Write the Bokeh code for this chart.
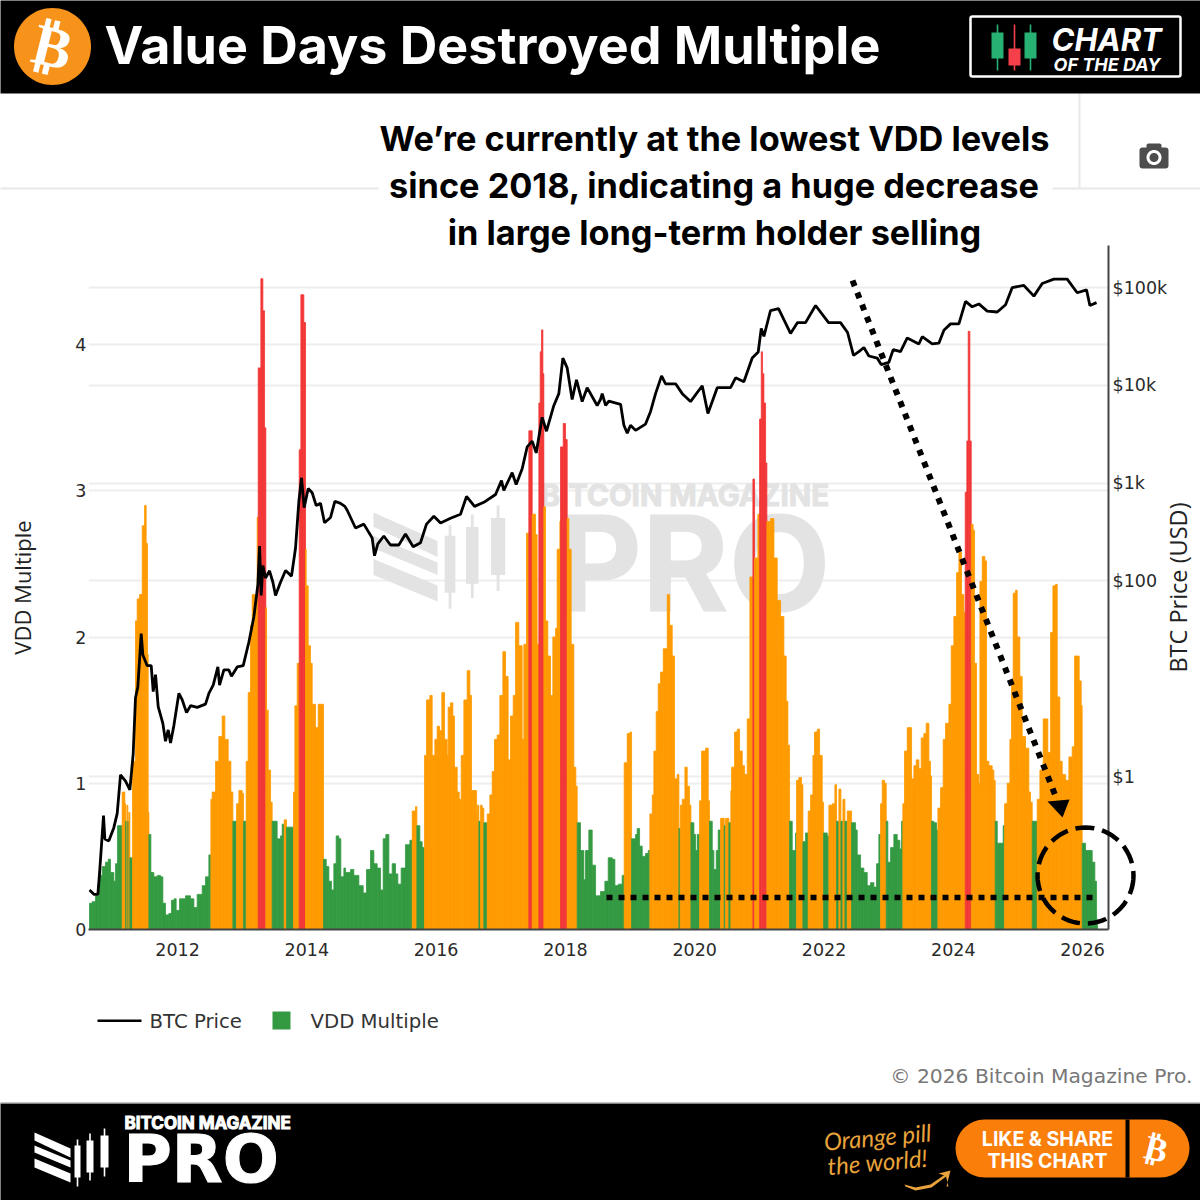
import numpy as np
from bokeh.plotting import figure
from bokeh.layouts import column
from bokeh.embed import file_html
from bokeh.resources import INLINE
from bokeh.models import (ColumnDataSource, Range1d, LogScale, LogAxis, FixedTicker, Grid,
                          NumeralTickFormatter, Label, BoxAnnotation, PolyAnnotation, Arrow)

# ---------- data ----------
vdd_years = [
2010.639,2010.680,2010.732,2010.783,2010.835,2010.886,2010.928,2010.964,2011.015,2011.041,2011.072,2011.144,2011.185,2011.196,2011.216,2011.232,2011.247,2011.263,2011.304,2011.350,2011.376,2011.412,2011.454,2011.490,2011.515,2011.536,2011.546,2011.557,2011.588,2011.634,2011.686,2011.737,2011.773,2011.814,2011.866,2011.907,2011.948,2011.979,2012.031,2012.124,2012.201,2012.253,2012.304,2012.382,2012.433,2012.485,2012.516,2012.536,2012.588,2012.639,2012.691,2012.732,2012.784,2012.825,2012.856,2012.913,2012.949,2013.000,2013.021,2013.062,2013.093,2013.129,2013.155,2013.196,2013.232,2013.248,2013.289,2013.320,2013.346,2013.366,2013.377,2013.403,2013.439,2013.464,2013.541,2013.593,2013.619,2013.650,2013.686,2013.794,2013.815,2013.851,2013.882,2013.908,2013.954,2013.980,2013.990,2014.021,2014.057,2014.083,2014.109,2014.134,2014.176,2014.227,2014.258,2014.300,2014.341,2014.382,2014.418,2014.454,2014.495,2014.526,2014.573,
2014.598,2014.676,2014.727,2014.805,2014.872,2014.923,2014.985,2015.037,2015.088,2015.140,2015.181,2015.222,2015.269,2015.320,2015.372,2015.408,2015.459,2015.526,2015.594,2015.630,2015.681,2015.702,2015.748,2015.784,2015.820,2015.851,2015.903,2015.939,2015.980,2016.016,2016.052,2016.088,2016.130,2016.171,2016.186,2016.222,2016.259,2016.284,2016.326,2016.357,2016.388,2016.429,2016.480,2016.522,2016.547,2016.583,2016.625,2016.635,2016.661,2016.687,2016.712,2016.738,2016.790,2016.831,2016.867,2016.903,2016.944,2016.985,2017.032,2017.073,2017.114,2017.150,2017.192,2017.228,2017.279,2017.331,2017.357,2017.398,2017.434,2017.486,2017.537,2017.563,2017.589,2017.610,2017.630,2017.651,2017.666,2017.692,2017.728,2017.769,2017.805,2017.847,2017.872,2017.914,2017.924,2017.966,2018.001,2018.027,2018.053,2018.089,2018.130,2018.161,2018.182,2018.233,2018.285,2018.311,2018.362,2018.414,2018.466,2018.517,
2018.543,2018.610,2018.662,2018.724,2018.765,2018.817,2018.878,2018.909,2018.956,2018.997,2019.023,2019.085,2019.110,2019.147,2019.188,2019.239,2019.281,2019.306,2019.343,2019.368,2019.404,2019.435,2019.471,2019.513,2019.575,2019.611,2019.652,2019.688,2019.729,2019.755,2019.776,2019.807,2019.848,2019.884,2019.920,2019.941,2019.987,2020.013,2020.039,2020.075,2020.106,2020.167,2020.209,2020.229,2020.271,2020.296,2020.333,2020.363,2020.400,2020.456,2020.477,2020.528,2020.559,2020.570,2020.616,2020.657,2020.693,2020.735,2020.771,2020.812,2020.853,2020.900,2020.925,2020.977,2021.003,2021.029,2021.049,2021.070,2021.096,2021.116,2021.173,2021.225,2021.276,2021.328,2021.379,2021.415,2021.441,2021.467,2021.508,2021.559,2021.575,2021.611,2021.652,2021.673,2021.714,2021.755,2021.792,2021.828,2021.853,2021.895,2021.931,2021.972,2021.993,2022.049,2022.075,2022.127,2022.168,2022.194,2022.230,2022.261,2022.292,2022.323,2022.359,2022.395,2022.426,2022.488,
2022.513,2022.565,2022.616,2022.668,2022.719,2022.771,2022.812,2022.848,2022.874,2022.900,2022.936,2022.962,2022.987,2023.029,2023.080,2023.132,2023.173,2023.199,2023.219,2023.245,2023.287,2023.328,2023.354,2023.390,2023.426,2023.467,2023.503,2023.544,2023.580,2023.622,2023.647,2023.663,2023.699,2023.740,2023.761,2023.802,2023.843,2023.879,2023.931,2023.967,2024.008,2024.050,2024.086,2024.127,2024.163,2024.184,2024.209,2024.230,2024.256,2024.277,2024.307,2024.328,2024.359,2024.395,2024.411,2024.447,2024.488,2024.514,2024.550,2024.601,2024.627,2024.648,2024.679,2024.730,2024.771,2024.792,2024.833,2024.875,2024.900,2024.926,2024.962,2024.988,2025.029,2025.065,2025.117,2025.168,2025.194,2025.220,2025.272,2025.297,2025.339,2025.390,2025.437,2025.462,2025.504,2025.540,2025.581,2025.607,2025.648,2025.684,2025.736,2025.787,2025.839,2025.875,2025.916,2025.947,2025.978,2025.993,2026.045,2026.097,2026.148,2026.189,2026.215,2026.231]

vdd_values = [
.18,.19,.23,.37,.43,.46,.48,.39,.33,.45,.71,.94,.86,.74,.85,.74,.80,.49,1.15,2.11,2.26,2.29,2.76,2.90,2.64,1.88,.80,.65,.39,.36,.37,.36,.18,.10,.11,.20,.21,.13,.21,.23,.21,.15,.24,.30,.36,.51,.89,.94,1.15,1.32,1.46,1.30,1.15,.94,.74,.86,.95,.93,.74,1.15,1.62,2.08,2.29,2.26,2.82,3.84,4.45,4.23,3.43,2.20,1.50,1.09,.87,.74,.62,.64,.72,.75,.70,.94,1.53,1.82,3.28,4.34,4.15,2.60,2.35,1.94,1.82,1.54,1.54,1.38,1.54,1.54,.48,.43,.33,.27,.45,.64,.62,.36,.42,
.39,.41,.37,.30,.25,.41,.54,.45,.42,.27,.62,.65,.38,.45,.38,.31,.42,.58,.61,.81,.84,.71,.60,.56,1.19,1.57,1.60,1.19,1.30,1.39,1.36,1.62,1.30,1.19,1.52,1.55,1.46,1.11,.94,.89,1.19,1.57,1.77,1.60,.95,.95,.79,.85,.74,.85,.83,.73,.79,.92,1.08,1.30,1.33,1.60,1.90,1.73,1.16,1.46,1.60,2.10,1.94,1.30,1.95,2.71,3.41,2.84,2.70,1.95,3.60,3.95,4.10,3.80,2.89,2.11,1.87,1.60,2.00,2.06,2.60,2.79,3.30,3.46,3.35,2.81,2.60,1.95,1.11,.98,.73,.54,.34,.54,.68,.44,.23,.23,
.26,.33,.49,.48,.30,.31,.37,1.14,1.34,1.35,.62,.65,.69,.57,.50,.52,.54,.79,.92,1.22,1.49,1.68,1.76,1.92,2.29,2.08,1.87,1.03,1.06,.69,.85,.89,1.11,.98,.85,.73,.65,.54,.65,.88,1.22,1.24,.88,.74,.54,.41,.54,.68,.76,.71,.76,.73,.95,1.11,1.35,1.37,1.22,1.12,1.06,1.44,2.41,3.08,2.54,2.84,3.49,3.95,3.80,3.60,3.19,2.79,2.81,2.54,2.25,2.14,1.87,1.56,1.26,.74,.54,.66,1.02,1.04,.99,.60,.66,.81,.92,1.19,1.35,1.37,1.19,.87,.66,.64,.85,.86,.99,.74,.96,.74,.89,.74,.81,.81,.73,.68,
.51,.42,.39,.30,.32,.29,.45,.65,.86,1.02,1.00,.74,.46,.56,.65,.61,.55,.74,.86,1.22,1.38,1.38,1.03,1.12,1.16,1.10,1.31,1.34,1.41,1.15,1.05,.74,.73,.68,.83,.97,1.30,1.41,1.54,1.94,2.14,2.44,2.58,2.29,2.17,2.99,3.34,4.09,3.34,2.77,2.73,1.82,1.06,1.00,2.38,2.55,2.52,1.15,1.12,1.09,1.02,.74,.59,.59,.71,.86,1.00,1.30,1.68,2.30,2.32,2.00,1.73,1.32,1.24,.94,.87,.74,.74,.89,1.09,1.44,1.44,1.21,2.03,2.35,2.36,1.59,1.15,1.06,1.02,1.18,1.25,1.87,1.87,1.70,1.53,.59,.54,.54,.46,.33,.07]

price_years = [
2010.639,2010.706,2010.768,2010.794,2010.835,2010.855,2010.876,2010.938,2011.015,2011.067,2011.118,2011.196,2011.263,2011.314,2011.350,2011.386,2011.438,2011.464,2011.531,2011.593,2011.624,2011.660,2011.701,2011.773,2011.814,2011.856,2011.892,2011.943,2012.021,2012.072,2012.139,2012.201,2012.304,2012.433,2012.485,2012.552,2012.624,2012.650,2012.717,2012.794,2012.835,2012.923,2013.016,2013.103,2013.181,2013.243,2013.269,2013.294,2013.320,2013.361,2013.423,2013.475,2013.516,2013.593,2013.671,2013.763,2013.825,2013.877,2013.918,2013.959,2014.021,2014.083,2014.145,2014.212,2014.274,2014.367,2014.434,2014.521,2014.588,
2014.624,2014.753,2014.882,2015.011,2015.047,2015.098,2015.191,2015.294,2015.423,2015.526,2015.645,2015.758,2015.851,2015.965,2016.068,2016.223,2016.377,2016.470,2016.594,2016.738,2016.919,2017.011,2017.047,2017.176,2017.238,2017.331,2017.408,2017.486,2017.548,2017.640,2017.707,2017.821,2017.898,2017.960,2018.027,2018.104,2018.171,2018.259,2018.336,2018.491,2018.542,
2018.569,2018.621,2018.672,2018.853,2018.904,2018.956,2019.007,2019.085,2019.239,2019.317,2019.394,2019.487,2019.549,2019.704,2019.807,2019.935,2020.116,2020.204,2020.348,2020.554,2020.632,2020.760,2020.889,2020.982,2021.029,2021.070,2021.172,2021.296,2021.482,2021.590,2021.714,2021.869,2022.070,2022.255,2022.364,2022.456,
2022.539,2022.616,2022.694,2022.822,2022.884,2023.003,2023.070,2023.183,2023.287,2023.467,2023.519,2023.673,2023.776,2023.854,2023.957,2024.086,2024.189,2024.292,2024.395,2024.524,2024.679,2024.808,2024.911,2025.091,2025.246,2025.375,2025.555,2025.761,2025.916,2026.060,2026.112,2026.215]

price_values = [
.069,.0625,.0625,.103,.255,.40,.23,.22,.30,.42,1.04,.9,.73,1.7,6.4,8.2,29,17.5,13.6,13.6,7.4,11,5.2,3.5,2.3,3.0,2.2,3.3,7.1,6.1,4.5,5.3,5.1,5.5,7.1,8.6,13.2,8.6,12.3,12.3,10.6,13.2,13.6,23.6,43,92,227,71,144,107,127,97,71,97,128,112,216,653,1135,561,883,798,590,621,394,446,653,621,579,
528,348,381,275,181,239,288,233,233,302,224,246,381,459,392,438,481,731,579,637,766,1062,841,1279,968,1403,2344,2692,2037,4710,3396,6223,8222,19000,15066,7161,11400,6823,9462,6223,7161,
8222,6223,6900,6400,3910,3244,3910,3463,4018,5408,8222,12500,10370,10370,8222,6823,9910,5164,9462,9462,11940,10870,19000,21900,38200,31700,58200,61000,33900,43800,43800,65500,43800,43800,34700,20200,
22100,24400,19950,19000,16300,17200,23200,22100,30500,26500,31400,26500,27000,36500,42500,42500,72300,63500,68000,57400,56200,66700,99800,105000,81700,110000,122000,122000,88500,94800,65500,70100]

year_ticks = [2012, 2014, 2016, 2018, 2020, 2022, 2024, 2026]
vdd_ticks = [0, 1, 2, 3, 4]
price_ticks = [1, 100, 1000, 10000, 100000]
price_tick_labels = {1: "$1", 100: "$100", 1000: "$1k", 10000: "$10k", 100000: "$100k"}

GREEN, ORANGE, RED = "#339a42", "#ff9a00", "#f23636"
GREEN_BELOW, RED_ABOVE = 0.75, 2.95

n = min(len(vdd_years) - 1, len(vdd_values))
bar_color = [GREEN if v < GREEN_BELOW else (RED if v > RED_ABOVE else ORANGE) for v in vdd_values[:n]]
bars_src = ColumnDataSource(dict(left=vdd_years[:n], right=vdd_years[1:n + 1], top=vdd_values[:n], color=bar_color))
m = min(len(price_years), len(price_values))

# ---------- the chart with its axes ----------
p = figure(width=1200, height=1200, output_backend="svg", toolbar_location=None,
           x_range=Range1d(2010.623, 2026.400), y_range=Range1d(0, 4.677),
           min_border_left=88, min_border_right=92, min_border_top=245, min_border_bottom=271,
           outline_line_color=None, background_fill_color="white", border_fill_color="white", frame_align=False)
p.extra_y_ranges = {"price": Range1d(0.0273, 269000)}
p.extra_y_scales = {"price": LogScale()}

AXC = "#2a2a2a"
p.xaxis.ticker = FixedTicker(ticks=year_ticks)
p.xaxis.formatter = NumeralTickFormatter(format="0")
p.yaxis.ticker = FixedTicker(ticks=vdd_ticks)
p.yaxis.axis_label = "VDD Multiple"
for ax in (p.xaxis[0], p.yaxis[0]):
    ax.major_tick_line_color = None
    ax.minor_tick_line_color = None
    ax.major_label_text_font = "DejaVu Sans"
    ax.major_label_text_font_size = "17.5px"
    ax.major_label_text_color = AXC
p.xaxis.axis_line_color = "#444444"
p.xaxis.axis_line_width = 2
p.xaxis.major_label_standoff = 7
p.yaxis.axis_line_color = None
p.yaxis.major_label_standoff = -4
p.yaxis.axis_label_text_font = "Open Sans"
p.yaxis.axis_label_text_font_style = "normal"
p.yaxis.axis_label_text_font_size = "22px"
p.yaxis.axis_label_text_color = "#222222"
p.yaxis.axis_label_standoff = 35

right = LogAxis(y_range_name="price", ticker=FixedTicker(ticks=price_ticks),
                major_label_overrides=price_tick_labels)
right.major_tick_line_color = None
right.minor_tick_line_color = None
right.major_label_text_font = "DejaVu Sans"
right.major_label_text_font_size = "17.5px"
right.major_label_text_color = AXC
right.major_label_standoff = -2
right.axis_line_color = "#444444"
right.axis_line_width = 2
p.add_layout(right, "right")

p.xgrid.visible = False
p.ygrid.grid_line_color = "#eeeeee"
p.ygrid.grid_line_width = 2
p.ygrid.ticker = FixedTicker(ticks=vdd_ticks)
p.add_layout(Grid(dimension=1, y_range_name="price", ticker=FixedTicker(ticks=price_ticks),
                  grid_line_color="#eeeeee", grid_line_width=2))

# ---------- a transparent sheet above it for header, footer and notes ----------
q = figure(width=1200, height=1200, output_backend="svg", toolbar_location=None,
           x_range=Range1d(0, 1200), y_range=Range1d(1200, 0), x_axis_type=None, y_axis_type=None,
           min_border_left=0, min_border_right=0, min_border_top=0, min_border_bottom=0,
           outline_line_color=None, background_fill_color=None, border_fill_color=None,
           margin=(-1200, 0, 0, 0), frame_align=False)
q.grid.visible = False

def text(x, y, s, size, color="#000000", align="left", style="bold", font="Inter", angle=0, on=None, level="annotation", outline=None):
    lab = Label(x=x, y=y, x_units="canvas", y_units="canvas", text=s, text_font=font, text_font_size=f"{size}px",
                text_font_style=style, text_color=color, text_align=align, text_baseline="middle",
                angle=angle, angle_units="deg", level=level)
    if outline:
        try:
            lab.text_outline_color = outline
        except AttributeError:
            pass
    (on or q).add_layout(lab)

def box(l, t, r, b, color, radius=0, line=None, lw=0, on=None, level="annotation"):
    (on or q).add_layout(BoxAnnotation(left=l, right=r, top=t, bottom=b,
                               left_units="canvas", right_units="canvas", top_units="canvas", bottom_units="canvas",
                               fill_color=color or "#000000", fill_alpha=1 if color else 0, line_color=line or "#000000", line_width=lw,
                               line_alpha=1 if line else 0, border_radius=radius, level=level, editable=False))

def poly(xs, ys, color, line=None, lw=0, dash=None, on=None, level="annotation"):
    (on or q).add_layout(PolyAnnotation(xs=[float(v) for v in xs], ys=[float(v) for v in ys], xs_units="canvas", ys_units="canvas",
                                fill_color=color or "#000000", fill_alpha=1 if color else 0,
                                line_color=line or "#000000", line_width=lw, line_alpha=1 if line else 0,
                                line_dash=dash or [], level=level, editable=False))

def circle(cx, cy, r, color, line=None, lw=0, dash=None):
    t = np.linspace(0, 2 * np.pi, 73)
    poly(cx + r * np.cos(t), cy + r * np.sin(t), color, line, lw, dash)

def logo(ox, oy, s, color, on=None, level="annotation"):
    stripes = [[(0, 4), (36, 20), (36, 29), (0, 12)], [(0, 17), (36, 32), (36, 39), (0, 24)], [(0, 30), (36, 45), (36, 54), (0, 39)]]
    for st in stripes:
        poly([ox + a * s for a, b in st], [oy + b * s for a, b in st], color, on=on, level=level)
    for a, a2, t, b, wt, wb in [(40, 46, 17, 49, 11, 58), (52, 59, 12, 44, 5, 52), (66, 74, 7, 39, 0, 48)]:
        box(ox + a * s, oy + t * s, ox + a2 * s, oy + b * s, color, on=on, level=level)
        m_ = (a + a2) / 2
        box(ox + (m_ - .8) * s, oy + wt * s, ox + (m_ + .8) * s, oy + wb * s, color, on=on, level=level)

# watermark (behind the bars)
logo(373, 505, 1.78, "#e3e3e3", on=p, level="underlay")
text(540, 494, "BITCOIN MAGAZINE", 29.5, "#e3e3e3", on=p, level="underlay", outline="#e3e3e3")
text(556, 562, "PRO", 132, "#e3e3e3", on=p, level="underlay", outline="#e3e3e3")

# marks
bars = p.quad(left="left", right="right", top="top", bottom=0, source=bars_src,
              fill_color="color", line_color="color", line_width=0.8)
price_line = p.line(price_years[:m], price_values[:m], y_range_name="price", line_color="#000000", line_width=2.8)

# dotted guides and dashed ring
q.add_layout(Arrow(end=None, x_start=852, y_start=280, x_end=1056, y_end=798,
                   line_color="#000000", line_width=6, line_dash=[6, 7]))
poly([1047, 1069, 1062], [801, 799, 817], "#000000")
q.add_layout(Arrow(end=None, x_start=606, y_start=897, x_end=1095, y_end=897,
                   line_color="#000000", line_width=5.5, line_dash=[6, 6]))
circle(1085, 875, 48, None, "#000000", 4.5, [19, 8])

# right axis title and legend
text(1177, 587, "BTC Price (USD)", 23.5, "#222222", "center", "normal", "Open Sans", 90)
box(97, 1019, 141, 1021.5, "#000000")
text(149, 1021, "BTC Price", 19.7, "#333333", style="normal", font="DejaVu Sans")
box(272, 1011, 290, 1029, GREEN)
text(310, 1021, "VDD Multiple", 19.7, "#333333", style="normal", font="DejaVu Sans")

# chrome
box(-5, 187, 378, 189, "#e8e8e8")
box(1052, 187, 1205, 189, "#e8e8e8")
box(1078, 93, 1080, 188, "#e8e8e8")
box(-5, -5, 1205, 93, "#000000")
box(-5, 1103, 1205, 1205, "#000000")
box(-5, 1102, 1205, 1103, "#888888")

# header
circle(52, 46, 38.5, "#F7931A")
text(52, 46, "₿", 58, "#ffffff", "center", "bold", "DejaVu Sans", -14)
text(104, 45, "Value Days Destroyed Multiple", 52, "#ffffff")
box(970, 16, 1180, 76, None, line="#ffffff", lw=2.5, radius=2)
for cx, t_, b_, col in [(997, 32, 58, "#27b173"), (1014, 48, 65, "#f5404c"), (1030, 32, 58, "#27b173")]:
    box(cx - .8, 24, cx + .8, 70, col)
    box(cx - 6, t_, cx + 6, b_, col)
text(1051, 39, "CHART", 31, "#ffffff", style="bold italic")
text(1053, 64, "OF THE DAY", 18, "#ffffff", style="bold italic")

# annotation
text(714, 138, "We’re currently at the lowest VDD levels", 34.3, "#000000", "center")
text(714, 185, "since 2018, indicating a huge decrease", 34.3, "#000000", "center")
text(714, 232, "in large long-term holder selling", 34.3, "#000000", "center")

# camera
box(1139, 147, 1168, 168, "#4d4d4d", radius=3)
box(1146, 143, 1161, 149, "#4d4d4d", radius=2)
circle(1153.5, 157, 7.5, "#ffffff")
circle(1153.5, 157, 4.5, "#4d4d4d")

# copyright
text(1192, 1075, "© 2026 Bitcoin Magazine Pro.", 20.3, "#777777", "right", "normal", "DejaVu Sans")

# footer
logo(34, 1128, 1.0, "#ffffff")
text(124, 1122, "BITCOIN MAGAZINE", 17, "#ffffff", outline="#ffffff")
text(123, 1159, "PRO", 66, "#ffffff", font="DejaVu Sans", outline="#ffffff")
text(877, 1136, "Orange pill", 24, "#e9a33b", "center", "italic", "Lato", 5)
text(877, 1161, "the world!", 24, "#e9a33b", "center", "italic", "Lato", 5)
poly([904, 915, 930, 946, 947, 931, 915, 905], [1184, 1187, 1184, 1173, 1175, 1187, 1190, 1186], "#e9a33b")
poly([938, 950, 946, 948, 945, 944], [1173, 1170, 1186, 1186, 1174, 1175], "#e9a33b")
box(955, 1119, 1189, 1177, "#f97e0a", radius=29)
box(1125, 1119, 1129, 1177, "#000000")
text(1047, 1138, "LIKE & SHARE", 19.5, "#ffffff", "center")
text(1047, 1160, "THIS CHART", 19.5, "#ffffff", "center")
text(1156, 1148, "₿", 34, "#ffffff", "center", "bold", "DejaVu Sans", -14)

page = column(p, q, spacing=0)
open("out.html", "w").write(file_html(page, INLINE))
